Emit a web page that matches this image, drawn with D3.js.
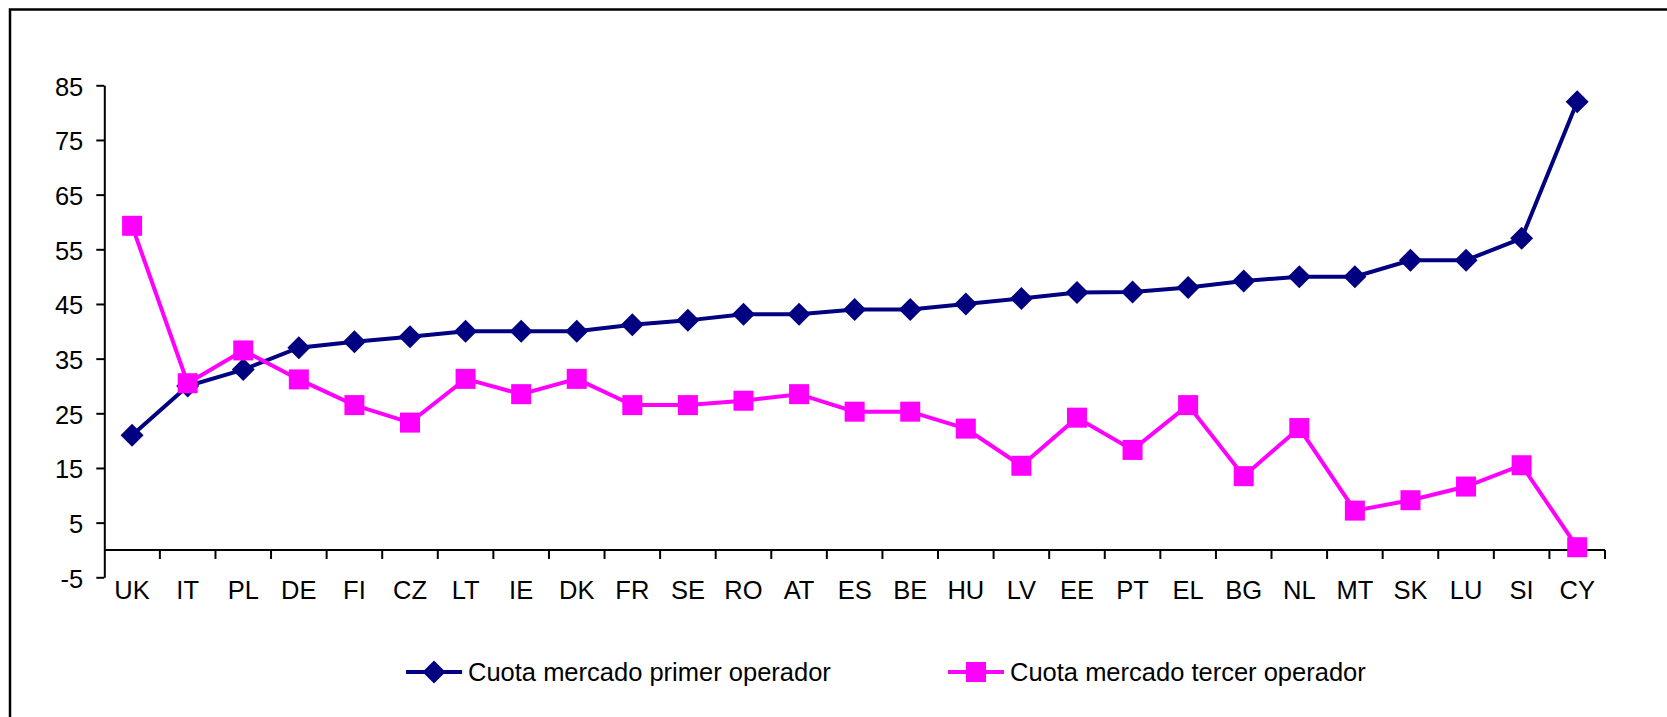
<!DOCTYPE html>
<html>
<head>
<meta charset="utf-8">
<script src="https://cdn.jsdelivr.net/npm/d3@7"></script>
<style>
	body { margin: 0; background: #fff; }
	text { font-family: "Liberation Sans", Arial, sans-serif; fill: #000; }
</style>
</head>
<body>
<div id="chart"></div>
<script>
// country codes along the x axis
var countries = ["UK", "IT", "PL", "DE", "FI", "CZ", "LT", "IE", "DK", "FR", "SE", "RO", "AT", "ES",
	"BE", "HU", "LV", "EE", "PT", "EL", "BG", "NL", "MT", "SK", "LU", "SI", "CY"];

var primerOperador = [21, 30, 33, 37, 38.1, 39, 40, 40, 40, 41.2, 42, 43.1, 43.1, 44,
	44, 45, 46, 47.1, 47.2, 48, 49.2, 50, 50, 53, 53, 57, 82];
var tercerOperador = [59.3, 30.5, 36.5, 31.2, 26.5, 23.3, 31.3, 28.5, 31.3, 26.5, 26.5, 27.3, 28.5, 25.3,
	25.3, 22.2, 15.4, 24.2, 18.3, 26.5, 13.5, 22.3, 7.2, 9.1, 11.6, 15.5, 0.5];

var yTicks = [-5, 5, 15, 25, 35, 45, 55, 65, 75, 85];

var series = [
	{ name: "Cuota mercado primer operador", values: primerOperador, color: "#000080", shape: "diamond" },
	{ name: "Cuota mercado tercer operador", values: tercerOperador, color: "#FF00FF", shape: "square" }
];

var width = 1667,
	height = 717;

var svg = d3.select("#chart")
	.append("svg")
	.attr("width", width)
	.attr("height", height);

// chart frame (cut off at right and bottom)
svg.append("rect")
	.attr("x", 10)
	.attr("y", 9.5)
	.attr("width", 1800)
	.attr("height", 900)
	.attr("fill", "none")
	.attr("stroke", "#000")
	.attr("stroke-width", 2.5);

var x = d3.scaleBand()
	.domain(countries)
	.range([104.3, 1605]);

var y = d3.scaleLinear()
	.domain([-5, 85])
	.range([577.3, 85.3]);

// y axis
var yAxis = svg.append("g")
	.attr("transform", "translate(104.3,0)")
	.call(d3.axisLeft(y).tickValues(yTicks).tickSize(8).tickSizeOuter(0).tickFormat(function(d){ return String(d); }));

yAxis.select(".domain").attr("stroke", "#000").attr("stroke-width", 2);
yAxis.selectAll(".tick line").attr("stroke", "#000").attr("stroke-width", 2);
yAxis.selectAll(".tick text")
	.attr("x", -21)
	.attr("dy", null)
	.attr("y", 9.7)
	.style("font-size", "25.5px")
	.style("font-family", "'Liberation Sans', Arial, sans-serif")
	.attr("fill", "#000");

// x axis at zero
var xAxis = svg.append("g");

xAxis.append("line")
	.attr("x1", x.range()[0])
	.attr("x2", x.range()[1])
	.attr("y1", y(0))
	.attr("y2", y(0))
	.attr("stroke", "#000")
	.attr("stroke-width", 2);

xAxis.selectAll(".xtick")
	.data(countries)
	.enter()
	.append("line")
	.attr("class", "xtick")
	.attr("x1", function(d){ return x(d) + x.bandwidth(); })
	.attr("x2", function(d){ return x(d) + x.bandwidth(); })
	.attr("y1", y(0))
	.attr("y2", y(0) + 9)
	.attr("stroke", "#000")
	.attr("stroke-width", 2);

xAxis.selectAll(".xlabel")
	.data(countries)
	.enter()
	.append("text")
	.attr("class", "xlabel")
	.attr("x", function(d){ return x(d) + x.bandwidth() / 2; })
	.attr("y", 599)
	.attr("text-anchor", "middle")
	.style("font-size", "25.5px")
	.text(function(d){ return d; });

var line = d3.line()
	.x(function(d, i){ return x(countries[i]) + x.bandwidth() / 2; })
	.y(function(d){ return y(d); });

function marker(sel, shape, color) {
	if (shape == "diamond") {
		sel.append("path")
			.attr("d", "M0,-11.5L11.5,0L0,11.5L-11.5,0Z")
			.attr("fill", color);
	} else {
		sel.append("rect")
			.attr("x", -10)
			.attr("y", -10)
			.attr("width", 20)
			.attr("height", 20)
			.attr("fill", color);
	}
}

series.forEach(function(s) {
	var g = svg.append("g").attr("class", "series");

	g.append("path")
		.datum(s.values)
		.attr("d", line)
		.attr("fill", "none")
		.attr("stroke", s.color)
		.attr("stroke-width", 4);

	g.selectAll(".pt")
		.data(s.values)
		.enter()
		.append("g")
		.attr("class", "pt")
		.attr("transform", function(d, i){
			return "translate(" + (x(countries[i]) + x.bandwidth() / 2) + "," + y(d) + ")";
		})
		.each(function(){ marker(d3.select(this), s.shape, s.color); });
});

// legend
var legendX = [406, 948];

var legend = svg.selectAll(".legend")
	.data(series)
	.enter()
	.append("g")
	.attr("class", "legend")
	.attr("transform", function(d, i){ return "translate(" + legendX[i] + ",672)"; });

legend.append("line")
	.attr("x1", 0)
	.attr("x2", 56)
	.attr("stroke", function(d){ return d.color; })
	.attr("stroke-width", 4);

legend.append("g")
	.attr("transform", "translate(28,0)")
	.each(function(d){ marker(d3.select(this), d.shape, d.color); });

legend.append("text")
	.attr("x", 62)
	.attr("y", 9)
	.style("font-size", "25.5px")
	.text(function(d){ return d.name; });
</script>
</body>
</html>
